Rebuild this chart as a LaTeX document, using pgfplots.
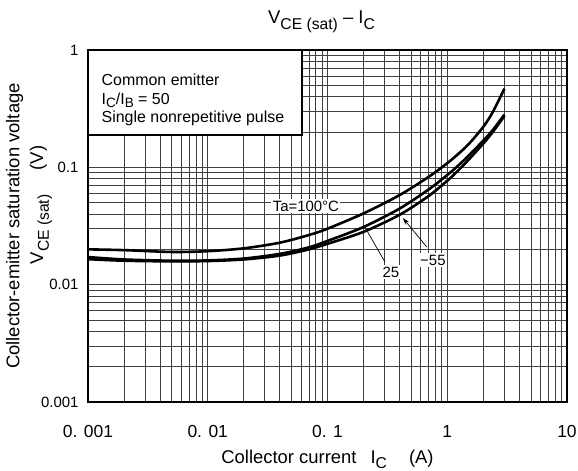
\documentclass[border=0pt]{standalone}
\usepackage{fontspec}
\setmainfont{Liberation Sans}
\usepackage{graphicx}
\usepackage{pgfplots}
\pgfplotsset{compat=1.18}
\usetikzlibrary{arrows.meta,calc}

\newcommand\sub[1]{\raisebox{-0.3em}{\scalebox{0.85}{#1}}}
\newcommand\bsub[1]{\raisebox{-0.2em}[\height][0pt]{\scalebox{0.85}{#1}}}
\newcommand\tickfont{\fontsize{15}{18}\selectfont}
\newcommand\xtickfont{\fontsize{17.5}{20}\selectfont}
\newcommand\boxfont{\fontsize{16}{18.5}\selectfont}
\newcommand\curvefont{\fontsize{15}{18}\selectfont}
\newcommand\labfont{\fontsize{18.5}{24}\selectfont}

% Ic (A)  Ta=100C  Ta=25C  Ta=-55C
\pgfplotstableread{
ic     hot     room    cold
0.001  0.0200  0.0172  0.0165
0.002  0.0197  0.0164  0.0160
0.005  0.0190  0.0160  0.0158
0.01   0.0193  0.0161  0.0159
0.02   0.0204  0.0167  0.0164
0.04   0.0228  0.0183  0.0177
0.07   0.0265  0.0208  0.0200
0.1    0.0300  0.0236  0.0223
0.2    0.0405  0.0310  0.0282
0.4    0.0580  0.0445  0.0394
0.7    0.0830  0.0648  0.0570
1.0    0.1085  0.0860  0.0769
1.2    0.1267  0.1008  0.0914
1.5    0.1566  0.1250  0.1155
2.0    0.2213  0.1690  0.1594
2.4    0.2960  0.2080  0.2002
3.0    0.4680  0.2810  0.2737
}\vcesat

\begin{document}
\begin{tikzpicture}
\begin{axis}[
  xmode=log, ymode=log,
  scale only axis, width=479bp, height=352bp,
  xmin=0.001, xmax=10, ymin=0.001, ymax=1,
  xtick={0.001,0.01,0.1,1,10},
  xticklabels={0. 001,0. 01,0. 1,1,10},
  ytick={0.001,0.01,0.1,1},
  yticklabels={0.001,0.01,0.1,1},
  grid=both,
  major grid style={black!75, line width=0.8bp},
  minor grid style={black!75, line width=0.8bp},
  tick style={draw=none},
  axis line style={line width=1.4bp},
  yticklabel style={font=\tickfont, xshift=-6bp},
  xticklabel style={font=\xtickfont, yshift=-20bp},
  clip=false,
]
\addplot[black, line width=2.6bp, smooth, tension=0.5] table[x=ic, y=hot] {\vcesat};
\addplot[black, line width=2.6bp, smooth, tension=0.5] table[x=ic, y=room] {\vcesat};
\addplot[black, line width=2.6bp, smooth, tension=0.5] table[x=ic, y=cold] {\vcesat};

% condition box
\draw[line width=1.4bp, fill=white] (rel axis cs:0,1) rectangle ++(214bp,-85bp);
\node[anchor=north west, align=left, font=\boxfont, inner sep=0pt]
  at ($(rel axis cs:0,1)+(13.5bp,-24bp)$)
  {Common emitter\\ I\bsub{C}/I\bsub{B} = 50\\ Single nonrepetitive pulse};

% curve labels
\node[fill=white, inner sep=1.5bp, font=\curvefont] at (axis cs:0.066,0.0468) {Ta=100°C};
\draw[line width=0.7bp] (axis cs:0.302,0.0156) -- (axis cs:0.205,0.0310);
\node[fill=white, inner sep=1.5bp, font=\curvefont] at (axis cs:0.338,0.0128) {25};
\draw[line width=0.7bp, -{Stealth[length=7bp,width=4.5bp]}]
  (axis cs:0.676,0.0209) -- (axis cs:0.426,0.0370);
\node[fill=white, inner sep=1.5bp, font=\curvefont] at (axis cs:0.759,0.0162) {−55};

% titles
\node[font=\labfont] at ($(rel axis cs:0.5,1)+(-6bp,28bp)$)
  {V\sub{CE (sat)} – I\sub{C}};
\node[font=\labfont, anchor=base] at ($(rel axis cs:0.5,0)+(0bp,-61bp)$)
  {Collector current\hspace{14bp}I\sub{C}\hspace{22bp}(A)};
\node[font=\labfont, rotate=90, align=center] at ($(rel axis cs:0,0.5)+(-59bp,0bp)$)
  {Collector-emitter saturation voltage\\ \hspace*{42bp}V\sub{CE (sat)}\hspace{24bp}(V)};
\end{axis}
\pgfresetboundingbox
\path[use as bounding box] ($(current axis.south west)+(-88bp,-69bp)$) rectangle ++(578bp,471bp);
\end{tikzpicture}
\end{document}
